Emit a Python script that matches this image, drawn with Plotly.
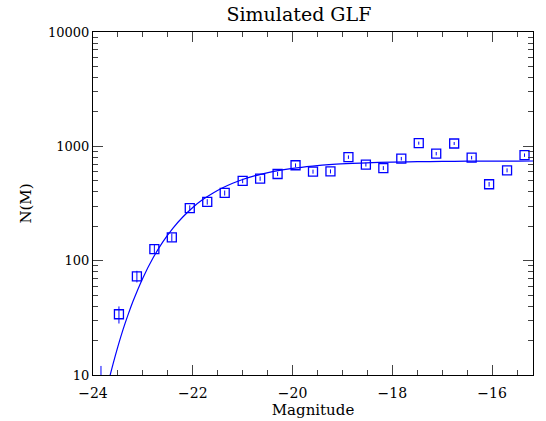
import plotly.graph_objects as go

# Data points (magnitude bins)
mag = [-23.84, -23.48, -23.12, -22.77, -22.42, -22.06, -21.71, -21.36, -21.00,
       -20.65, -20.30, -19.94, -19.59, -19.24, -18.88, -18.53, -18.18, -17.82,
       -17.47, -17.12, -16.76, -16.41, -16.06, -15.70, -15.35]
counts = [9, 34, 73, 126, 160, 288, 327, 391, 498,
          522, 573, 683, 601, 604, 805, 692, 646, 780,
          1067, 863, 1059, 796, 466, 617, 838]
errs = [3.0, 5.8, 8.5, 11.2, 12.6, 17.0, 18.1, 19.8, 22.3,
        22.8, 23.9, 26.1, 24.5, 24.6, 28.4, 26.3, 25.4, 27.9,
        32.7, 29.4, 32.5, 28.2, 21.6, 24.8, 28.9]

# Fitted curve
curve_mag = [-23.70, -23.60, -23.50, -23.40, -23.30, -23.20, -23.00, -22.80, -22.60,
             -22.40, -22.20, -22.00, -21.80, -21.60, -21.40, -21.20, -21.00, -20.80,
             -20.60, -20.40, -20.00, -19.60, -19.20, -18.80, -18.40, -18.00, -17.50,
             -17.00, -16.50, -16.00, -15.50, -15.18]
curve_n = [8.4, 12.4, 17.8, 24.8, 33.4, 43.9, 70.7, 105, 146,
           192, 241, 292, 342, 389, 434, 476, 513, 546,
           575, 601, 642, 672, 694, 709, 720, 728, 734,
           738, 741, 742, 743, 744]

y_tickvals = [10, 100, 1000, 10000]
y_ticktext = ["10", "100", "1000", "10000"]
y_minor = [20, 30, 40, 50, 60, 70, 80, 90,
           200, 300, 400, 500, 600, 700, 800, 900,
           2000, 3000, 4000, 5000, 6000, 7000, 8000, 9000]
x_tickvals = [-24, -22, -20, -18, -16]

BLUE = "#0000ff"
FONT = "DejaVu Serif"
TICKC = "#444"

fig = go.Figure()
fig.add_trace(go.Scatter(
    x=curve_mag, y=curve_n, mode="lines",
    line=dict(color=BLUE, width=1.2, shape="spline"),
    showlegend=False, hoverinfo="skip"))
fig.add_trace(go.Scatter(
    x=mag, y=counts, mode="markers",
    marker=dict(symbol="square-open", size=9, color=BLUE, line=dict(color=BLUE, width=1.3)),
    error_y=dict(type="data", array=errs, visible=True, color=BLUE, thickness=1, width=0),
    showlegend=False))
# invisible trace so the mirrored (top/right) tick axes render
fig.add_trace(go.Scatter(x=[mag[5]], y=[counts[5]], xaxis="x2", yaxis="y2",
                         mode="markers", marker=dict(opacity=0), showlegend=False,
                         hoverinfo="skip"))

xrange_ = [-24, -15.18]
yrange_ = [1, 4]

fig.update_layout(
    width=546, height=421,
    margin=dict(l=93, r=13, t=32, b=46),
    paper_bgcolor="white", plot_bgcolor="white",
    title=dict(text="Simulated GLF", x=0.468, xanchor="center", y=0.966, yanchor="middle",
               xref="paper", font=dict(family=FONT, size=19, color="black")),
    xaxis=dict(range=xrange_, tickvals=x_tickvals, ticks="inside", ticklen=10, tickcolor=TICKC,
               showline=True, linecolor="black", linewidth=1, showgrid=False, zeroline=False,
               automargin=False, ticklabelstandoff=5,
               tickfont=dict(family=FONT, size=14, color="black"),
               minor=dict(ticks="inside", ticklen=5, dtick=0.5, tick0=-24, tickcolor=TICKC,
                          showgrid=False),
               title=dict(text="Magnitude", font=dict(family=FONT, size=15, color="black"),
                          standoff=2)),
    yaxis=dict(type="log", range=yrange_, tickvals=y_tickvals, ticktext=y_ticktext,
               ticks="inside", ticklen=10, tickcolor=TICKC,
               showline=True, linecolor="black", linewidth=1, showgrid=False, zeroline=False,
               automargin=False, tickfont=dict(family=FONT, size=13, color="black"),
               minor=dict(ticks="inside", ticklen=5, tickvals=y_minor, tickcolor=TICKC,
                          showgrid=False),
               title=dict(text="N(M)", font=dict(family=FONT, size=15, color="black"),
                          standoff=12)),
    xaxis2=dict(range=xrange_, overlaying="x", side="top", tickvals=x_tickvals,
                ticks="inside", ticklen=10, tickcolor=TICKC, showticklabels=False,
                showline=True, linecolor="black", linewidth=1, showgrid=False, zeroline=False,
                automargin=False,
                minor=dict(ticks="inside", ticklen=5, dtick=0.5, tick0=-24, tickcolor=TICKC,
                           showgrid=False)),
    yaxis2=dict(type="log", range=yrange_, overlaying="y", side="right", tickvals=y_tickvals,
                ticks="inside", ticklen=10, tickcolor=TICKC, showticklabels=False,
                showline=True, linecolor="black", linewidth=1, showgrid=False, zeroline=False,
                automargin=False,
                minor=dict(ticks="inside", ticklen=5, tickvals=y_minor, tickcolor=TICKC,
                           showgrid=False)),
)

# remove the browser's default 8px body margin so the figure fills the window exactly
fig.write_html("out.html", config={"displayModeBar": False},
               post_script="document.body.style.margin='0px';")
